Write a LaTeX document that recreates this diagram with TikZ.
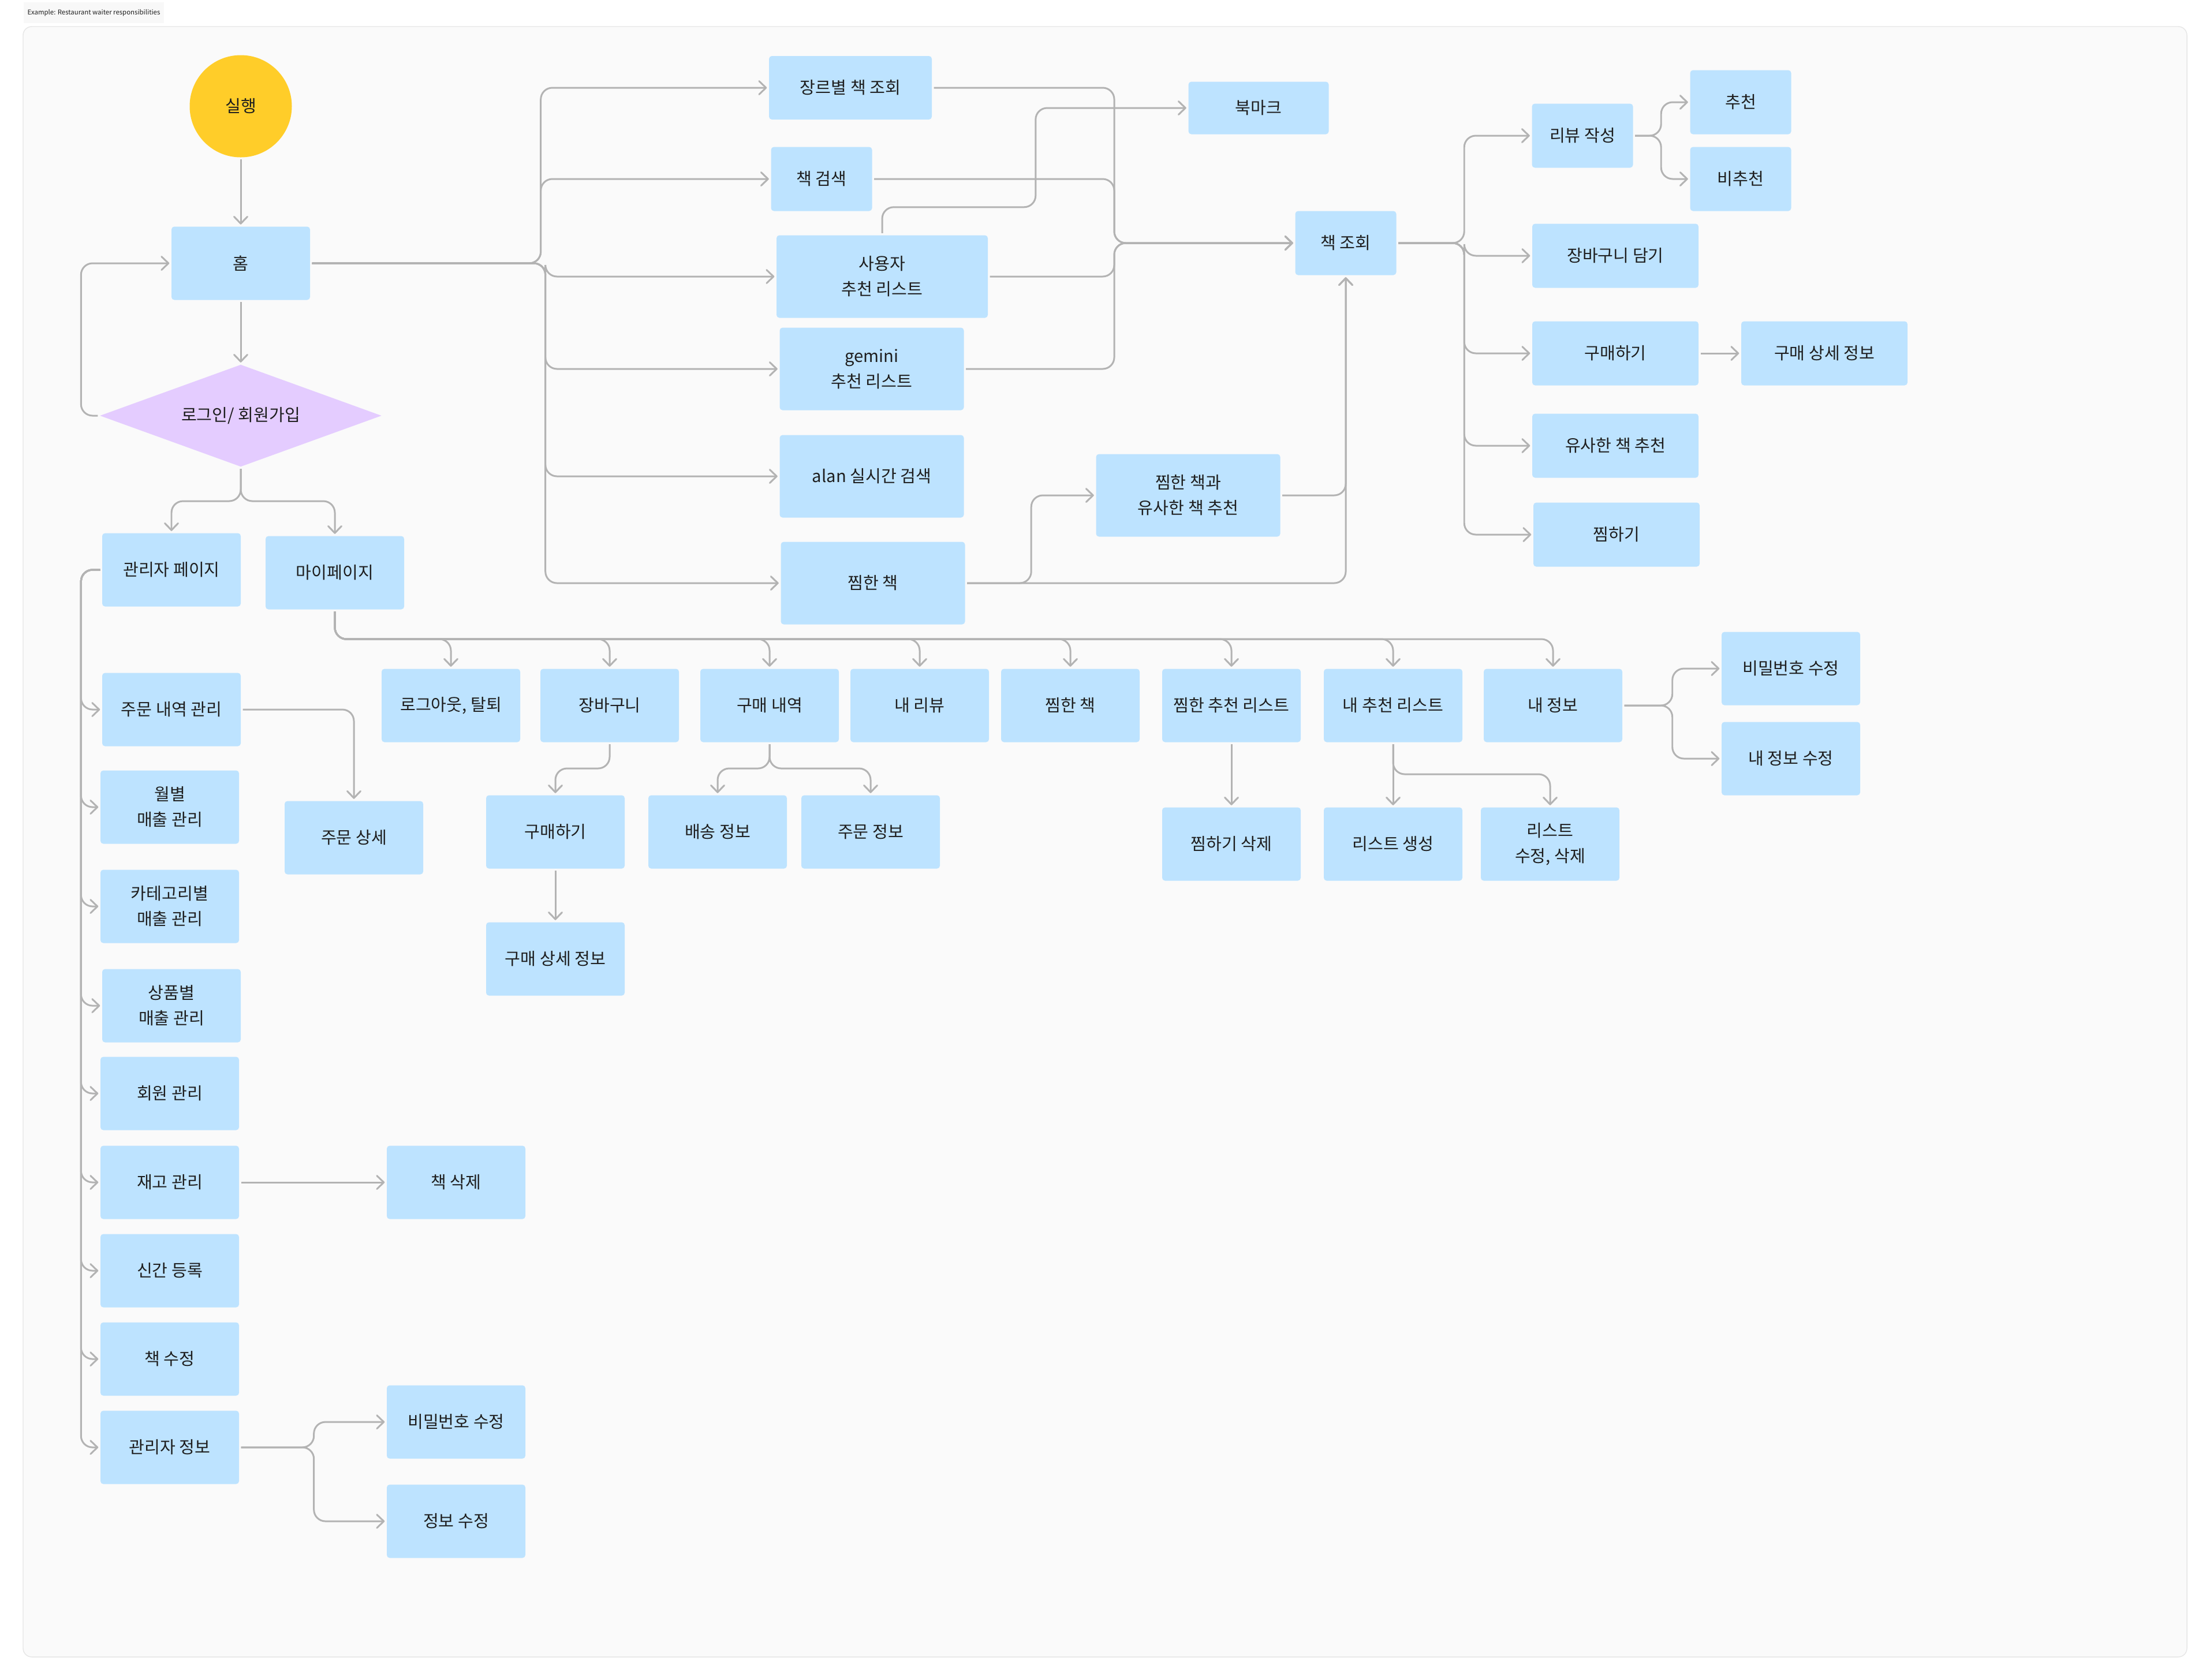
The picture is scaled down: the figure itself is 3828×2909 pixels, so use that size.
\documentclass[tikz,border=0pt]{standalone}
\usepackage{fontspec}
\setmainfont{Noto Sans CJK KR}
\usetikzlibrary{arrows.meta,shapes.geometric,calc}
\usepackage{xcolor}

\definecolor{boxblue}{HTML}{BDE3FF}
\definecolor{startyellow}{HTML}{FFCD29}
\definecolor{loginpurple}{HTML}{E4CCFF}
\definecolor{linegray}{HTML}{B3B3B3}
\definecolor{textdark}{HTML}{1E1E1E}
\definecolor{framebg}{HTML}{FAFAFA}
\definecolor{frameline}{HTML}{E6E6E6}
\definecolor{titlebg}{HTML}{F8F8F8}

\tikzset{
  box/.style={rectangle, rounded corners=0.5mm, fill=boxblue, text=textdark, align=center,
    font=\fontsize{8.3}{12.5}\selectfont, inner sep=0pt, minimum width=24mm, minimum height=12.7mm},
  widebox/.style={box, minimum width=28.8mm, minimum height=11.1mm},
  smallbox/.style={box, minimum width=17.5mm, minimum height=11.1mm},
  tallbox/.style={box, minimum width=31.9mm, minimum height=14.3mm},
  link/.style={draw=linegray, line width=0.85pt, rounded corners=2mm, shorten <=0.3mm, shorten >=0.3mm,
    -{Straight Barb[length=1.2mm,width=2.3mm,round]}},
}

\begin{document}
\begin{tikzpicture}[x=0.1mm, y=-0.1mm]

  \useasboundingbox (0,0) rectangle (3828,2909);
  \fill[white] (0,0) rectangle (3828,2909);

  % Frame
  \node[fill=titlebg, text=textdark, anchor=west, inner xsep=0.7mm, minimum height=3.3mm,
    font=\fontsize{3.25}{4}\selectfont] (title) at (40,22) {Example: Restaurant waiter responsibilities};
  \draw[frameline, fill=framebg, rounded corners=1.5mm] (40,46) rectangle (3788,2870);

  % Start
  \node[circle, fill=startyellow, text=textdark, minimum size=17.7mm, inner sep=0pt,
    font=\fontsize{8.3}{12.5}\selectfont] (start) at (417,184) {실행};
  \node[box] (home) at (417,456) {홈};
  \node[diamond, fill=loginpurple, text=textdark, aspect=2.77, minimum width=48.8mm, minimum height=17.7mm,
    inner sep=0pt, font=\fontsize{8.3}{12.5}\selectfont] (login) at (417,720) {로그인/ 회원가입};

  % Home menu
  \node[box, minimum width=28.2mm, minimum height=11mm] (genre) at (1473,152) {장르별 책 조회};
  \node[smallbox] (search) at (1423,310) {책 검색};
  \node[tallbox, minimum width=36.6mm] (userrec) at (1528,479) {사용자\\추천 리스트};
  \node[tallbox] (gemini) at (1510,639) {gemini\\추천 리스트};
  \node[tallbox] (alan) at (1510,825) {alan 실시간 검색};
  \node[tallbox] (wished) at (1512,1010) {찜한 책};
  \node[box, minimum width=24.3mm, minimum height=9.1mm] (bookmark) at (2180,187) {북마크};
  \node[tallbox] (similarwish) at (2058,858) {찜한 책과\\유사한 책 추천};
  \node[smallbox] (bookview) at (2331,421) {책 조회};

  % Book view
  \node[smallbox] (review) at (2741,235) {리뷰 작성};
  \node[smallbox] (rec) at (3015,177) {추천};
  \node[smallbox] (norec) at (3015,310) {비추천};
  \node[widebox] (cart) at (2798,443) {장바구니 담기};
  \node[widebox] (buy) at (2798,612) {구매하기};
  \node[widebox] (buydetail) at (3160,612) {구매 상세 정보};
  \node[widebox] (similar) at (2798,772) {유사한 책 추천};
  \node[widebox] (wish) at (2800,926) {찜하기};

  % Admin
  \node[box] (admin) at (297,987) {관리자 페이지};
  \node[box] (orders) at (297,1229) {주문 내역 관리};
  \node[box] (monthly) at (294,1398) {월별\\매출 관리};
  \node[box] (category) at (294,1570) {카테고리별\\매출 관리};
  \node[box] (product) at (297,1742) {상품별\\매출 관리};
  \node[box] (members) at (294,1894) {회원 관리};
  \node[box] (stock) at (294,2048) {재고 관리};
  \node[box] (newbook) at (294,2201) {신간 등록};
  \node[box] (editbook) at (294,2354) {책 수정};
  \node[box] (admininfo) at (294,2507) {관리자 정보};
  \node[box] (orderdetail) at (613,1451) {주문 상세};
  \node[box] (delbook) at (790,2048) {책 삭제};
  \node[box] (adminpw) at (790,2463) {비밀번호 수정};
  \node[box] (admininfoedit) at (790,2635) {정보 수정};

  % My page
  \node[box] (mypage) at (580,992) {마이페이지};
  \node[box] (logout) at (781,1222) {로그아웃, 탈퇴};
  \node[box] (mycart) at (1056,1222) {장바구니};
  \node[box] (history) at (1333,1222) {구매 내역};
  \node[box] (myreview) at (1593,1222) {내 리뷰};
  \node[box] (mywish) at (1854,1222) {찜한 책};
  \node[box] (wishrec) at (2133,1222) {찜한 추천 리스트};
  \node[box] (myrec) at (2413,1222) {내 추천 리스트};
  \node[box] (myinfo) at (2690,1222) {내 정보};
  \node[box] (mybuy) at (962,1441) {구매하기};
  \node[box] (mybuydetail) at (962,1661) {구매 상세 정보};
  \node[box] (ship) at (1243,1441) {배송 정보};
  \node[box] (orderinfo) at (1508,1441) {주문 정보};
  \node[box] (wishdel) at (2133,1462) {찜하기 삭제};
  \node[box] (listnew) at (2413,1462) {리스트 생성};
  \node[box] (listedit) at (2685,1462) {리스트\\수정, 삭제};
  \node[box] (pw) at (3102,1158) {비밀번호 수정};
  \node[box] (infoedit) at (3102,1314) {내 정보 수정};

  % Buses
  \coordinate (bookhub) at (1930,421);
  \coordinate (rolebus) at (0,868);
  \coordinate (mybus) at (0,1107);
  \coordinate (cartbus) at (0,1331);
  \coordinate (listbus) at (0,1341);

  % Flow
  \draw[link] (start) -- (home);
  \draw[link] (home) -- (login);
  \draw[link] (login.west) -- ++(-32,0) |- (home.west);
  \foreach \n in {admin,mypage}
    \draw[link] (login.south) |- (rolebus -| \n.north) -- (\n.north);

  \foreach \n in {genre,search}
    \draw[link] (home.east) -- ++(399,0) |- (\n.west);
  \foreach \n in {userrec,gemini,alan,wished}
    \draw[link] (home.east) -- ++(407,0) |- (\n.west);
  \foreach \n in {genre,search,userrec,gemini}
    \draw[link] (\n.east) -| (bookhub) -- (bookview.west);
  \draw[link] (userrec.north) -- ++(0,-48) -| ($(bookmark.west)+(-264,0)$) -- (bookmark.west);
  \draw[link] (wished.east) -- ++(114,0) |- (similarwish.west);
  \draw[link] (wished.east) -| (bookview.south);
  \draw[link] (similarwish.east) -| (bookview.south);

  \foreach \n in {review,cart,buy,similar,wish}
    \draw[link] (bookview.east) -- ++(117,0) |- (\n.west);
  \foreach \n in {rec,norec}
    \draw[link] (review.east) -- ++(48,0) |- (\n.west);
  \draw[link] (buy) -- (buydetail);

  \foreach \n in {orders,monthly,category,product,members,stock,newbook,editbook,admininfo}
    \draw[link] (admin.west) -- ++(-36,0) |- (\n.west);
  \draw[link] (orders.east) -| (orderdetail.north);
  \draw[link] (stock) -- (delbook);
  \foreach \n in {adminpw,admininfoedit}
    \draw[link] (admininfo.east) -- ++(129,0) |- (\n.west);

  \foreach \n in {logout,mycart,history,myreview,mywish,wishrec,myrec,myinfo}
    \draw[link] (mypage.south) |- (mybus -| \n.north) -- (\n.north);
  \draw[link] (mycart.south) |- (cartbus -| mybuy.north) -- (mybuy.north);
  \draw[link] (mybuy) -- (mybuydetail);
  \foreach \n in {ship,orderinfo}
    \draw[link] (history.south) |- (cartbus -| \n.north) -- (\n.north);
  \draw[link] (wishrec) -- (wishdel);
  \draw[link] (myrec) -- (listnew);
  \draw[link] (myrec.south) |- (listbus -| listedit.north) -- (listedit.north);
  \foreach \n in {pw,infoedit}
    \draw[link] (myinfo.east) -- ++(86,0) |- (\n.west);

\end{tikzpicture}
\end{document}
